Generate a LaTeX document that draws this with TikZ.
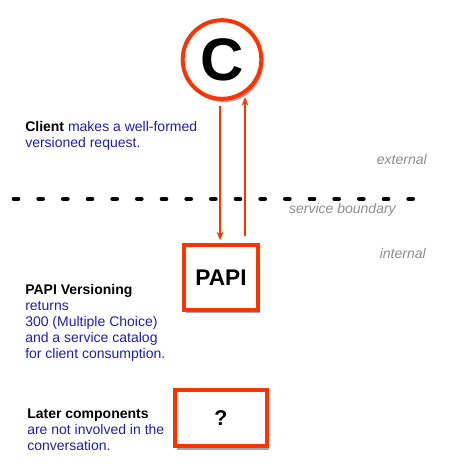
\documentclass[tikz,border=0pt]{standalone}
\usepackage{fontspec}
\setmainfont{Liberation Sans}
\usetikzlibrary{arrows.meta,shadows}
\definecolor{papired}{RGB}{255,51,0}
\definecolor{noteblue}{RGB}{30,30,170}
\definecolor{zonegray}{RGB}{140,140,140}

\begin{document}
\begin{tikzpicture}[x=0.75pt,y=-0.75pt,
    comp/.style={draw=papired, line width=3pt, fill=white, font=\bfseries,
      drop shadow={shadow xshift=1.5pt, shadow yshift=-2.5pt, opacity=0.35, fill=black}},
    note/.style={anchor=base west, align=left, inner sep=0pt,
      font=\fontsize{10.5}{12}\selectfont, text=noteblue},
    zone/.style={anchor=base east, inner sep=0pt,
      font=\fontsize{10.5}{12}\selectfont\itshape, text=zonegray},
    msg/.style={draw=papired, line width=1pt, -{Stealth[length=6.5pt,width=5pt]}}]
    \useasboundingbox (0,0) rectangle (455,472);

    % Components
    \node[comp, circle, minimum size=59pt, inner sep=0pt,
      font=\fontsize{45}{45}\selectfont\bfseries] (client) at (222,59.5) {C};
    \node[comp, minimum width=55.5pt, minimum height=48.75pt,
      font=\fontsize{17}{17}\selectfont\bfseries] (papi) at (221,277.5) {PAPI};
    \node[comp, minimum width=68.5pt, minimum height=42.5pt,
      font=\fontsize{16}{16}\selectfont\bfseries] (later) at (221,418) {?};

    % Service boundary
    \draw[line width=3.5pt, line cap=round, dash pattern=on 3pt off 15.5pt] (14,199) -- (428,199);

    % Request and response
    \coordinate (req) at (220,106);
    \coordinate (resp) at (245,97);
    \draw[msg, shorten >=2pt] (req) -- (req |- papi.north);
    \draw[msg, shorten <=5pt] (resp |- papi.north) -- (resp);

    % Zone labels
    \node[zone] (extlabel) at (427,164) {external};
    \node[zone] (bndlabel) at (396,213) {service boundary};
    \node[zone] (intlabel) at (426,258) {internal};

    % Notes
    \node[note] (clientnote) at (25,147)
      {\textcolor{black}{\bfseries Client} makes a well-formed\\versioned request.};
    \node[note] (papinote) at (25,358)
      {\textcolor{black}{\bfseries PAPI Versioning}\\returns\\300 (Multiple Choice)\\and a service catalog\\for client consumption.};
    \node[note] (laternote) at (27,450)
      {\textcolor{black}{\bfseries Later components}\\are not involved in the\\conversation.};
\end{tikzpicture}
\end{document}
